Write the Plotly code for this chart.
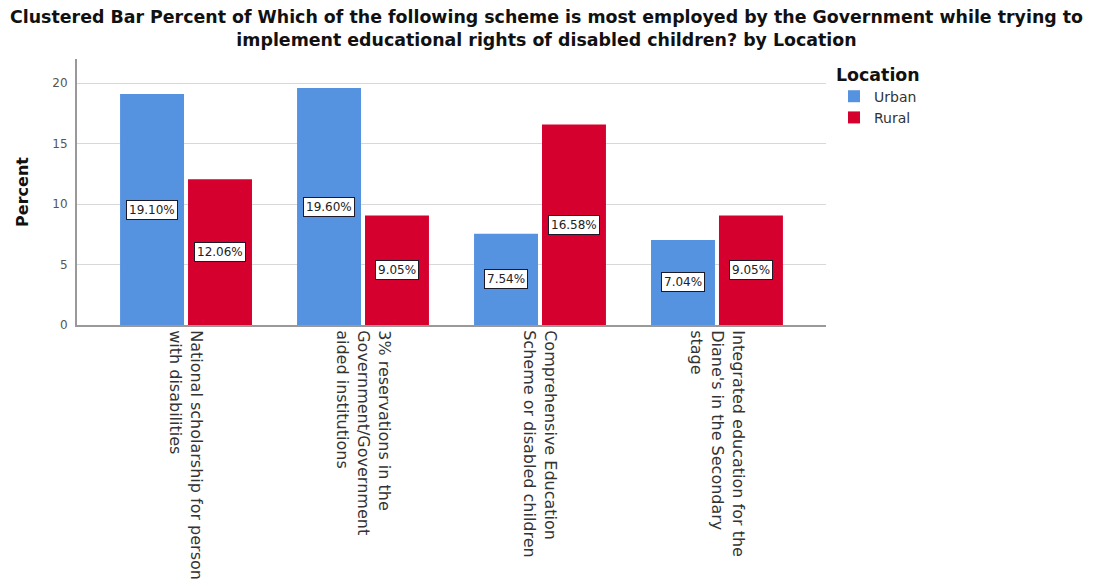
import plotly.graph_objects as go

# Survey responses: share of respondents (percent) per scheme, split by location
categories = [
    "National scholarship for person<br>with disabilities",
    "3% reservations in the<br>Government/Government<br>aided institutions",
    "Comprehensive Education<br>Scheme or disabled children",
    "Integrated education for the<br>Diane's in the Secondary<br>stage",
]
urban = [19.10, 19.60, 7.54, 7.04]
rural = [12.06, 9.05, 16.58, 9.05]
series_names = ["Urban", "Rural"]
series_colors = ["#5592E0", "#D5002E"]

W, H = 1093, 588
ML, MR, MT, MB = 77, 267, 59, 263
PW, PH = W - ML - MR, H - MT - MB
FONT = "DejaVu Sans, Liberation Sans, Arial, sans-serif"

fig = go.Figure()
for name, vals, col in zip(series_names, [urban, rural], series_colors):
    fig.add_trace(go.Bar(
        name=name, x=categories, y=vals,
        marker=dict(color=col, line=dict(width=0)),
        hoverinfo="skip",
    ))

# Value labels in white boxes at the middle of each bar
BARGAP = 0.232
bar_slot = (1 - BARGAP) / 2
for i, vals in enumerate([urban, rural]):
    shift = (i - 0.5) * bar_slot
    for j, v in enumerate(vals):
        fig.add_annotation(
            x=j + shift, y=v / 2, xref="x", yref="y",
            text=f"{v:.2f}%", showarrow=False,
            font=dict(family=FONT, size=12, color="#222"),
            bgcolor="white", bordercolor="#1a1a2a", borderwidth=1, borderpad=2,
        )

# Two-line chart title
fig.add_annotation(
    x=(546 - ML) / PW, y=(H - MB - 5) / PH, xref="paper", yref="paper",
    xanchor="center", yanchor="top", showarrow=False,
    text="<b>Clustered Bar Percent of Which of the following scheme is most employed by the Government while trying to<br>"
         "implement educational rights of disabled children? by Location</b>",
    font=dict(family=FONT, size=17.4, color="#111"),
    align="center",
)

fig.update_layout(
    width=W, height=H,
    margin=dict(l=ML, r=MR, t=MT, b=MB, autoexpand=False),
    paper_bgcolor="white", plot_bgcolor="white",
    barmode="group", bargap=BARGAP, bargroupgap=0.059,
    font=dict(family=FONT, color="#333"),
    legend=dict(
        title=dict(text="<b>Location</b>", font=dict(family=FONT, size=17.4, color="#111")),
        x=(834 - ML) / PW, xanchor="left",
        y=(H - MB - 58) / PH, yanchor="top",
        font=dict(family=FONT, size=14, color="#333"),
        bgcolor="rgba(0,0,0,0)", tracegroupgap=0, itemwidth=30,
    ),
    showlegend=True,
)

fig.update_xaxes(
    type="category", range=[-0.616, 3.616],
    showline=True, linecolor="#999", linewidth=2,
    showgrid=False, ticks="", tickangle=90,
    tickfont=dict(family=FONT, size=16, color="#333"),
    automargin=False,
)
fig.update_yaxes(
    range=[0, 22], tickvals=[0, 5, 10, 15, 20],
    showline=True, linecolor="#999", linewidth=2,
    showgrid=True, gridcolor="#D8D8D8", gridwidth=1,
    zeroline=False, ticks="", ticklabelstandoff=5,
    tickfont=dict(family=FONT, size=12, color="#555"),
    title=dict(text="<b>Percent</b>", font=dict(family=FONT, size=16, color="#111"), standoff=20),
    automargin=False,
)

fig.write_html("out.html")
